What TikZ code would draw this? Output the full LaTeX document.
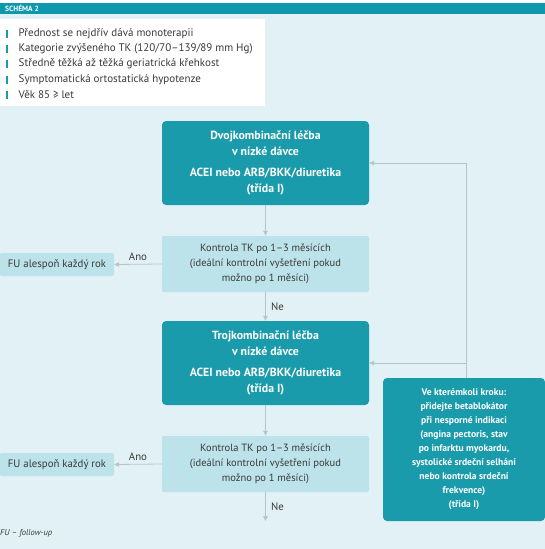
\documentclass[tikz,border=0pt]{standalone}
\usepackage{fontspec}
\setmainfont{PT Sans}
\usetikzlibrary{arrows.meta}
\definecolor{tealbox}{HTML}{1A9BAB}
\definecolor{barcol}{HTML}{0E98AE}
\definecolor{bgcol}{HTML}{E1F1F5}
\definecolor{lightbox}{HTML}{BCE2EA}
\definecolor{conn}{HTML}{B5C6CB}
\definecolor{txtcol}{HTML}{3A3A3A}
\begin{document}
\begin{tikzpicture}[x=1pt,y=-1pt,
  mainbox/.style={fill=tealbox, rounded corners=4pt, text=white, align=center, inner sep=0pt,
    font=\bfseries\fontsize{11.8}{15.5}\selectfont, minimum width=207pt, minimum height=84pt},
  ctrlbox/.style={fill=lightbox, rounded corners=2pt, text=txtcol, align=center, inner sep=0pt,
    font=\fontsize{10.5}{15}\selectfont, minimum width=207pt, minimum height=56pt},
  fubox/.style={fill=lightbox, rounded corners=2pt, text=txtcol, align=center, inner sep=0pt,
    font=\fontsize{10.8}{13}\selectfont, minimum width=114pt, minimum height=23pt},
  sidebox/.style={fill=tealbox, rounded corners=4pt, text=white, align=center, inner sep=0pt,
    font=\bfseries\fontsize{9.6}{14}\selectfont, minimum width=162pt, minimum height=143pt},
  lbl/.style={text=txtcol, font=\fontsize{10.8}{12}\selectfont, inner sep=0pt},
  bullettxt/.style={anchor=west, text=txtcol, font=\fontsize{11}{12}\selectfont, inner sep=0pt},
  bulletmark/.style={fill=tealbox, minimum width=2pt, minimum height=7.5pt, inner sep=0pt},
  arr/.style={draw=conn, line width=0.8pt, -{Triangle[length=5pt,width=4.5pt]}},
  ln/.style={draw=conn, line width=0.8pt}
]
\useasboundingbox (0,0) rectangle (545,549);
\fill[bgcol] (0,14) rectangle (545,549);
\fill[barcol] (0,3) rectangle (545,14);
\node[anchor=west, text=white, font=\bfseries\fontsize{7.5}{8}\selectfont, inner sep=0pt] (title) at (5,8.7) {SCHÉMA 2};

% criteria box
\node[fill=white, minimum width=265pt, minimum height=87pt, inner sep=0pt, anchor=north west] (crit) at (0,19) {};
\foreach \y/\t [count=\i] in {34/{Přednost se nejdřív dává monoterapii},
  49/{Kategorie zvýšeného TK (120/70–139/89 mm Hg)},
  64/{Středně těžká až těžká geriatrická křehkost},
  80/{Symptomatická ortostatická hypotenze},
  95/{Věk 85 ≥ let}}{
  \node[bulletmark] (bm\i) at (6.5,\y) {};
  \node[bullettxt] (bt\i) at (18.5,\y) {\t};
}

% main flow
\node[mainbox] (b1) at (265.5,163) {Dvojkombinační léčba\\ v nízké dávce\\[6pt] ACEI nebo ARB/BKK/diuretika\\ (třída I)};
\node[ctrlbox] (k1) at (265.5,264) {Kontrola TK po 1–3 měsících\\ (ideální kontrolní vyšetření pokud\\ možno po 1 měsíci)};
\node[fubox] (f1) at (57,264.5) {FU alespoň každý rok};
\node[mainbox] (b2) at (265.5,363) {Trojkombinační léčba\\ v nízké dávce\\[6pt] ACEI nebo ARB/BKK/diuretika\\ (třída I)};
\node[ctrlbox] (k2) at (265.5,464) {Kontrola TK po 1–3 měsících\\ (ideální kontrolní vyšetření pokud\\ možno po 1 měsíci)};
\node[fubox] (f2) at (57,464.5) {FU alespoň každý rok};
\node[sidebox] (side) at (464,449.5) {Ve kterémkoli kroku:\\ přidejte betablokátor\\ při nesporné indikaci\\ (angina pectoris, stav\\ po infarktu myokardu,\\ systolické srdeční selhání\\ nebo kontrola srdeční\\ frekvence)\\ (třída I)};

% connectors
\draw[arr] (b1.south) -- (k1.north);
\draw[arr] (k1.west) -- (f1.east);
\node[lbl] (ano1) at (138,257) {Ano};
\draw[arr] (k1.south) -- (b2.north);
\node[lbl, anchor=west] (ne1) at (271,307) {Ne};
\draw[arr] (b2.south) -- (k2.north);
\draw[arr] (k2.west) -- (f2.east);
\node[lbl] (ano2) at (138,457) {Ano};
\coordinate (endpt) at (265.5,521);
\draw[arr] (k2.south) -- (endpt);
\node[lbl, anchor=west] (ne2) at (271,507) {Ne};

\coordinate (corner) at (466,163);
\coordinate (mid) at (466,363);
\draw[ln] (side.north -| corner) -- (corner);
\draw[arr] (corner) -- (b1.east);
\draw[arr] (mid) -- (b2.east);

\node[anchor=west, text=txtcol, font=\itshape\fontsize{8.5}{10}\selectfont, inner sep=0pt] (note) at (0,533) {FU – follow-up};
\end{tikzpicture}
\end{document}
